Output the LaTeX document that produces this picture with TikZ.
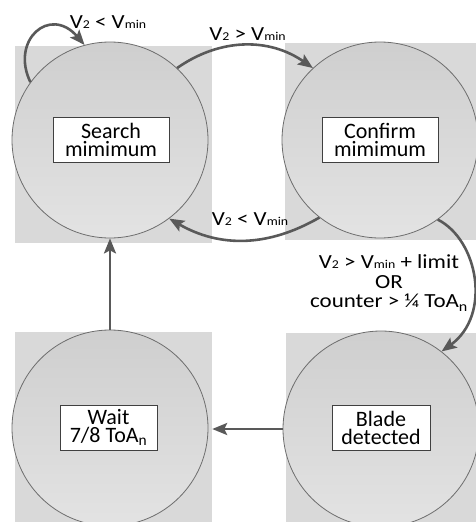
\documentclass[tikz,border=0pt]{standalone}
\usepackage{fontspec}
\setmainfont{Carlito}
\newfontfamily\lblfont[FakeStretch=1.15]{Carlito}
\usetikzlibrary{arrows.meta,calc}
\definecolor{sqfill}{HTML}{D9D9D9}
\definecolor{arrcol}{HTML}{595959}
\definecolor{edgecol}{HTML}{6E6E6E}
\newcommand{\myV}[1]{V{\fontsize{12}{12}\selectfont #1}}
\newcommand{\mymin}{{\fontsize{12}{12}\selectfont min}}
\begin{document}
\begin{tikzpicture}[x=1pt,y=1pt,
  sqbox/.style={draw=none,fill=sqfill,minimum size=197pt,inner sep=0pt},
  state/.style={circle,draw=edgecol,line width=0.8pt,top color=black!19,bottom color=black!11,minimum size=196pt,inner sep=0pt},
  txtbox/.style={draw=black!75,line width=0.8pt,fill=white,align=center,minimum height=45pt,inner xsep=3pt,inner ysep=0pt,font=\fontsize{22}{18}\selectfont},
  arrow/.style={draw=arrcol,line width=2.6pt,-{Stealth[length=15pt,width=12pt,inset=3pt]}},
  lbl/.style={font=\lblfont\fontsize{20}{19.5}\selectfont,inner sep=0pt,align=center}]
\useasboundingbox (0,0) rectangle (476,-522);
\clip (0,0) rectangle (476,-522);
% background squares
\node[sqbox] (Sbg) at (113.5,-144) {};
\node[sqbox] (Cbg) at (383.5,-141.5) {};
\node[sqbox] (Wbg) at (113.5,-430.5) {};
\node[sqbox] (Bbg) at (384.5,-431.5) {};
% states
\node[state] (S) at (110,-140) {};
\node[state] (C) at (380,-140) {};
\node[state] (W) at (110,-428) {};
\node[state] (B) at (381,-429) {};
% text boxes
\node[txtbox,minimum width=116pt] (St) at (111,-139.5) {Search\\mimimum};
\node[txtbox,minimum width=116pt] (Ct) at (380,-139.5) {Confirm\\mimimum};
\node[txtbox,minimum width=97pt] (Wt) at (108.5,-427.5) {Wait\\7/8 ToA\textsubscript{n}};
\node[txtbox,minimum width=98pt] (Bt) at (381,-428) {Blade\\detected};
% connectors
\draw[arrow] (S.144) .. controls (10,-40) and (50,-5) .. (S.105);
\draw[arrow] (S.47) to[out=35,in=145] (C.133);
\draw[arrow] (C.232) to[out=-150,in=-30] (S.307);
\draw[arrow] (C.306) .. controls (478,-240) and (492,-315) .. (B.52);
\draw[arrow] (B.west) -- (B.west -| Wbg.east);
\draw[arrow] (W.north) -- (S.south);
% labels
\node[lbl,anchor=base] (L1) at (108,-28) {\myV{2} < V\mymin};
\node[lbl,anchor=base] (L2) at (247.5,-40) {\myV{2} > V\mymin};
\node[lbl,anchor=base] (L3) at (250,-225) {\myV{2} < V\mymin};
\node[lbl] (L4) at (389,-283) {\myV{2} > V\mymin{} + limit\\OR\\counter > ¼ ToA\textsubscript{n}};
\end{tikzpicture}
\end{document}
